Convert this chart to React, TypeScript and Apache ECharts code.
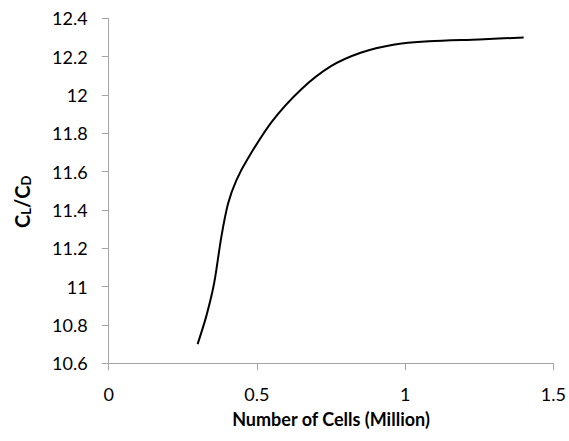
import React, { useEffect, useRef } from "react";
import * as echarts from "echarts";

const cells = [0.30, 0.33, 0.356, 0.38, 0.403, 0.431, 0.47, 0.55, 0.65, 0.75, 0.85, 0.96, 1.08, 1.25, 1.40];
const ratio = [10.70, 10.85, 11.02, 11.26, 11.435, 11.556, 11.67, 11.86, 12.03, 12.15, 12.22, 12.262, 12.28, 12.29, 12.30];

const xTitle = "Number of Cells (Million)";
const FONT = "Lato";

export default function App() {
  const ref = useRef<HTMLDivElement>(null);
  useEffect(() => {
    if (!ref.current) return;
    const chart = echarts.init(ref.current, null, { renderer: "svg" });
    const fmt = (v: number) => String(parseFloat(v.toFixed(1)));
    chart.setOption({
      animation: false,
      grid: { left: 108.7, right: 15.7, top: 18.3, bottom: 77.7 },
      xAxis: {
        type: "value",
        min: 0,
        max: 1.5,
        interval: 0.5,
        name: xTitle,
        nameLocation: "middle",
        nameGap: 47,
        nameTextStyle: { fontFamily: FONT, fontWeight: "bold", fontSize: 18, color: "#000" },
        axisLine: { lineStyle: { color: "#a6a6a6", width: 1 } },
        axisTick: { show: true, length: 7, lineStyle: { color: "#a6a6a6" } },
        axisLabel: { fontFamily: FONT, fontSize: 18, color: "#000", margin: 22, formatter: fmt },
        splitLine: { show: false },
      },
      yAxis: {
        type: "value",
        min: 10.6,
        max: 12.4,
        interval: 0.2,
        name: "{a|C}{s|L}{a|/C}{s|D}",
        nameLocation: "middle",
        nameRotate: 90,
        nameGap: 76,
        nameTextStyle: {
          padding: [0, 22, 0, 0],
          rich: {
            a: { fontFamily: FONT, fontWeight: "bold", fontSize: 20, color: "#000" },
            s: { fontFamily: FONT, fontWeight: "bold", fontSize: 13, color: "#000", padding: [9, 0, 0, 0] },
          },
        },
        axisLine: { show: true, lineStyle: { color: "#a6a6a6", width: 1 } },
        axisTick: { show: true, length: 7, lineStyle: { color: "#a6a6a6" } },
        axisLabel: { fontFamily: FONT, fontSize: 18, color: "#000", margin: 21, formatter: fmt },
        splitLine: { show: false },
      },
      series: [
        {
          type: "line",
          data: cells.map((x, i) => [x, ratio[i]]),
          smooth: 0.3,
          showSymbol: false,
          symbol: "none",
          lineStyle: { color: "#000", width: 2 },
        },
      ],
    });
    return () => chart.dispose();
  }, []);
  return <div ref={ref} style={{ width: 569, height: 441, position: "absolute", left: 0, top: 0 }} />;
}
